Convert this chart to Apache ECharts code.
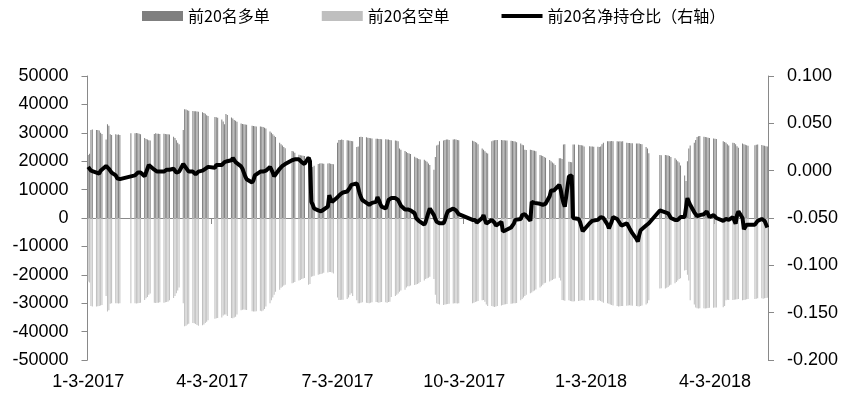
<!DOCTYPE html>
<html><head><meta charset="utf-8">
<script src="https://cdn.jsdelivr.net/npm/echarts@6/dist/echarts.min.js"></script>
<style>html,body{margin:0;padding:0;background:#fff}#c{width:853px;height:406px}</style>
</head><body><div id="c"></div>
<script>
const startDate = '2017-01-03';
const endDate = '2018-05-11';
const holidays = ['2017-01-27','2017-01-30','2017-01-31','2017-02-01','2017-02-02','2017-04-03','2017-04-04','2017-05-01','2017-05-29','2017-05-30','2017-10-02','2017-10-03','2017-10-04','2017-10-05','2017-10-06','2018-01-01','2018-02-15','2018-02-16','2018-02-19','2018-02-20','2018-02-21','2018-04-05','2018-04-06','2018-04-30','2018-05-01'];
const labelDates = ['2017-01-03','2017-04-03','2017-07-03','2017-10-03','2018-01-03','2018-04-03'];
const seriesNames = ['前20名多单','前20名空单','前20名净持仓比（右轴）'];

const longVals = [
22200,22600,31000,31200,31000,31000,30800,30000,29600,27600,33000,32500,29500,29200,29500,29300,29400,29200,
29800,29800,29900,29800,29700,29500,28200,27800,27600,27400,27300,29600,29800,29700,29700,29600,29700,29600,
29500,29500,29400,28600,28200,27400,26500,26000,31000,38300,38200,37900,37800,37700,37600,37600,37500,37400,37200,37000,36700,36200,35900,
35600,35500,35300,34700,34000,33000,36600,36300,35400,35000,34500,34200,33900,33300,33100,33000,32900,32800,
32500,32400,32300,32200,32200,32100,32000,31800,31500,30500,30000,29500,29000,28500,26500,26000,25500,25000,24600,23600,
23400,23000,22300,22100,22000,21900,21800,21700,21400,18200,18000,18400,19000,19200,19300,19200,19100,19200,19300,19100,19000,18900,
26500,27500,27500,27600,27500,27400,27300,27200,27100,27000,25000,25200,28500,28600,28500,28400,28300,28200,28100,28000,27900,
27900,27800,27800,27700,27700,27600,27600,27500,27400,27300,27200,27000,24500,24000,23600,23200,22900,22700,22500,21600,21200,21000,20800,
20600,20500,20200,19800,19200,18700,17000,21500,25500,25800,27000,27300,27500,27600,27600,27500,27600,27700,27600,27500,27400,
27200,27000,26800,26500,26000,24500,24000,23500,23000,22700,27000,27300,27400,27500,27500,27500,27400,
27400,27300,27300,27200,27100,27000,26900,26700,26200,25800,25600,24000,23900,24000,23900,23800,23700,23500,22200,22000,21800,21500,
21200,20400,20000,19500,19200,18700,21000,21000,20800,25900,26000,19800,19700,19600,25900,25900,25800,25700,25600,25500,25200,
25300,25200,25200,25100,25100,25000,25200,26000,26500,27000,27000,27000,27100,27000,27000,26900,27000,26900,27000,26500,26400,26400,
26300,26300,26200,26200,26200,26100,26000,25000,24500,22800,22200,22100,22200,22100,22000,
21800,21500,21000,20500,20000,19500,18500,15000,13000,20000,24500,25500,26500,27500,28500,28800,28900,28600,28500,28400,28300,28200,
28000,27900,27800,27000,26800,26500,26000,25500,26500,26400,26000,25300,24700,26200,26000,25800,25600,25400,
25600,25800,25900,25700,25500,25400,25300,25200
];

const shortVals = [
-22400,-22700,-31000,-31200,-31200,-31100,-31000,-30800,-30600,-27500,-32900,-32500,-30200,-30000,-30000,-30000,-30100,-30000,
-30000,-30000,-30100,-30000,-29900,-29800,-28900,-28300,-27800,-27000,-26600,-29800,-29900,-29800,-29800,-29700,-29800,-29700,
-29600,-29400,-29000,-28200,-27500,-26500,-25500,-24500,-30000,-38100,-37900,-37500,-37200,-37000,-37100,-37300,-37700,-37900,-37800,-37500,-37000,-36500,-36000,
-35500,-35300,-35200,-35000,-34300,-34000,-34000,-34500,-35200,-35300,-35000,-34800,-34000,-32500,-32300,-32200,-32300,-32400,
-32800,-32900,-32900,-32800,-32700,-32800,-32600,-32000,-31200,-30000,-29000,-28000,-27000,-26000,-25300,-24600,-24200,-23800,-23500,-23000,
-22800,-22500,-22000,-21800,-21500,-21300,-21100,-23500,-23200,-20700,-20500,-20300,-20000,-19800,-19700,-19500,-19300,-19200,-19000,-19000,-19200,-19500,
-28000,-28900,-28900,-28800,-28800,-28500,-28000,-27000,-26500,-27500,-29000,-30000,-30000,-29800,-29700,-29800,-29900,-30000,-29800,-29700,-29600,
-29700,-29800,-29700,-29600,-29700,-29800,-29600,-29500,-27800,-27500,-27000,-26600,-26000,-25500,-25300,-24500,-24000,-24000,-23800,-23600,-23400,-23200,-23000,
-22500,-22000,-21500,-21200,-21000,-20700,-21500,-27000,-30000,-30300,-30500,-30600,-30500,-30400,-30300,-30200,-30100,-30000,-30000,-30100,-30000,
-30000,-29800,-29600,-29400,-29200,-29000,-28900,-29500,-30500,-31000,-31000,-31200,-31300,-31200,-31000,-30800,-30600,
-30500,-30400,-30300,-30200,-30100,-30000,-30000,-29900,-29000,-28500,-28000,-27500,-27000,-26500,-26200,-25800,-25500,-25200,-24500,-24000,-23500,-23000,
-22800,-22400,-22000,-21800,-21500,-21300,-21000,-22000,-28900,-29000,-29100,-29000,-29200,-29300,-29400,-29300,-29200,-29100,-29000,-29000,-29100,
-29000,-29000,-28900,-29000,-29100,-29000,-29200,-29500,-29800,-30000,-30200,-30500,-30600,-30800,-31000,-31200,-31100,-31000,-31000,-30900,-30800,-30700,
-30800,-30900,-31000,-31100,-31200,-31000,-30800,-30500,-30000,-29000,-24800,-24700,-24800,-24600,-24300,
-23800,-23500,-23000,-22500,-22000,-21500,-21200,-18500,-18300,-20000,-22000,-29000,-30500,-31500,-31800,-31900,-31800,-31800,-31900,-31800,-31700,-31600,
-31600,-31500,-31500,-31400,-31000,-29000,-28800,-28900,-28900,-28800,-28700,-28600,-28500,-29000,-28900,-28800,-28600,-28500,
-28500,-28400,-28300,-28300,-28400,-28300,-28200,-28100
];

const ratioVals = [
0.004,0.006,0.000,-0.001,-0.002,-0.004,-0.003,0.000,0.002,0.005,0.004,0.002,0.000,-0.002,-0.005,-0.008,-0.009,-0.009,
-0.006,-0.005,-0.004,-0.002,-0.001,-0.002,-0.006,-0.004,0.002,0.006,0.004,0.001,0.000,-0.001,-0.002,-0.001,-0.001,0.000,
0.001,0.0015,0.001,0.002,0.001,-0.002,-0.004,-0.001,0.007,0.006,0.003,0.001,-0.001,-0.001,-0.003,-0.004,-0.002,-0.001,0.000,-0.001,0.002,0.004,0.004,
0.003,0.006,0.0075,0.006,0.007,0.009,0.0095,0.010,0.011,0.0135,0.012,0.009,0.007,0.0045,0.002,-0.002,-0.006,-0.009,
-0.0125,-0.010,-0.005,-0.003,-0.001,0.000,-0.001,-0.002,0.000,0.004,0.001,-0.002,-0.006,-0.005,0.002,0.004,0.005,0.006,0.007,0.011,
0.0115,0.012,0.012,0.011,0.009,0.008,0.007,0.0138,0.010,-0.033,-0.036,-0.040,-0.042,-0.043,-0.043,-0.042,-0.041,-0.038,-0.026,-0.030,-0.033,-0.031,
-0.028,-0.027,-0.025,-0.024,-0.023,-0.022,-0.022,-0.018,-0.015,-0.014,-0.0134,-0.018,-0.024,-0.028,-0.031,-0.034,-0.035,-0.036,-0.035,-0.034,-0.033,
-0.028,-0.031,-0.035,-0.038,-0.040,-0.036,-0.031,-0.029,-0.029,-0.029,-0.030,-0.031,-0.034,-0.037,-0.041,-0.042,-0.041,-0.041,-0.042,-0.045,-0.050,-0.052,-0.053,
-0.054,-0.057,-0.054,-0.049,-0.044,-0.040,-0.047,-0.051,-0.054,-0.0556,-0.0556,-0.0556,-0.052,-0.047,-0.043,-0.042,-0.040,-0.041,-0.042,-0.043,-0.046,
-0.052,-0.052,-0.052,-0.055,-0.057,-0.050,-0.047,-0.052,-0.056,-0.055,-0.052,-0.054,-0.055,-0.058,-0.057,-0.054,-0.064,
-0.065,-0.063,-0.062,-0.060,-0.060,-0.056,-0.052,-0.051,-0.051,-0.047,-0.045,-0.046,-0.047,-0.053,-0.033,-0.033,-0.034,-0.034,-0.035,-0.035,-0.036,-0.036,
-0.035,-0.027,-0.021,-0.020,-0.021,-0.022,-0.015,-0.020,-0.028,-0.034,-0.038,-0.006,-0.004,-0.005,-0.050,-0.050,-0.051,-0.054,-0.059,-0.064,-0.063,
-0.0556,-0.0545,-0.053,-0.053,-0.052,-0.050,-0.049,-0.049,-0.050,-0.057,-0.061,-0.060,-0.054,-0.049,-0.051,-0.053,-0.0556,-0.058,-0.057,-0.0556,-0.057,-0.061,
-0.063,-0.066,-0.072,-0.075,-0.068,-0.063,-0.061,-0.058,-0.057,-0.0556,-0.042,-0.041,-0.044,-0.045,-0.045,
-0.047,-0.050,-0.052,-0.052,-0.052,-0.050,-0.049,-0.049,-0.049,-0.029,-0.033,-0.036,-0.044,-0.046,-0.048,-0.049,-0.047,-0.046,-0.044,-0.043,-0.046,-0.049,
-0.047,-0.048,-0.050,-0.053,-0.052,-0.051,-0.051,-0.052,-0.049,-0.051,-0.056,-0.047,-0.043,-0.050,-0.062,-0.062,-0.057,-0.0556,
-0.057,-0.055,-0.053,-0.051,-0.052,-0.053,-0.054,-0.060
];

// build calendar-day categories; values land on trading days (weekdays minus holidays)
function pad(n){return n<10?'0'+n:''+n;}
function key(d){return d.getUTCFullYear()+'-'+pad(d.getUTCMonth()+1)+'-'+pad(d.getUTCDate());}
const holidaySet = new Set(holidays);
const labelSet = new Set(labelDates);
const cats = [], longData = [], shortData = [], ratioData = [];
let ti = 0;
for (let d = new Date(startDate+'T00:00:00Z'); key(d) <= endDate; d = new Date(d.getTime()+86400000)) {
  const k = key(d); cats.push(k);
  const wd = d.getUTCDay();
  if (wd>=1 && wd<=5 && !holidaySet.has(k) && ti < longVals.length) {
    longData.push(longVals[ti]); shortData.push(shortVals[ti]); ratioData.push(ratioVals[ti]); ti++;
  } else { longData.push(null); shortData.push(null); ratioData.push(null); }
}
function fmtDate(v){const p=v.split('-');return (+p[1])+'-'+(+p[2])+'-'+p[0];}
const showAt = (i, v) => labelSet.has(v);

const AX = '#898989';
const TXT = '#000000';
const FONT = "'Liberation Sans', Arial, sans-serif";
const chart = echarts.init(document.getElementById('c'), null, {renderer:'canvas'});
chart.setOption({
  animation:false,
  backgroundColor:'#ffffff',
  grid:{left:87.5, right:85, top:76, bottom:46, containLabel:false, outerBoundsMode:'none'},
  legend:{
    top:8, left:142, padding:0, itemWidth:41, itemHeight:10, itemGap:52,
    textStyle:{fontSize:16, color:TXT, fontFamily:"'Noto Sans CJK SC', sans-serif"},
    data:[
      {name:seriesNames[0], icon:'rect'},
      {name:seriesNames[1], icon:'rect'},
      {name:seriesNames[2], icon:'path://M0,0 L40,0 L40,4 L0,4 Z'}
    ]
  },
  xAxis:[
    {type:'category', data:cats, boundaryGap:true, position:'bottom',
     axisLine:{show:false, onZero:false}, axisTick:{show:false}, splitLine:{show:false},
     axisLabel:{show:true, interval:showAt, formatter:fmtDate, margin:13, fontSize:18, color:TXT, fontFamily:FONT}},
    {type:'category', data:cats, boundaryGap:true, position:'bottom',
     axisLine:{show:true, onZero:true, onZeroAxisIndex:0, lineStyle:{color:AX, width:1}},
     axisTick:{show:true, interval:showAt, alignWithLabel:false, length:6, lineStyle:{color:AX}},
     axisLabel:{show:false}, splitLine:{show:false}}
  ],
  yAxis:[
    {type:'value', position:'left', min:-50000, max:50000, interval:10000,
     axisLine:{show:true, onZero:false, lineStyle:{color:AX}}, axisTick:{show:true, length:6, lineStyle:{color:AX}},
     splitLine:{show:false}, axisLabel:{margin:19, fontSize:18, color:TXT, fontFamily:FONT, formatter:v=>String(v)}},
    {type:'value', position:'right', min:-0.2, max:0.1, interval:0.05,
     axisLine:{show:true, onZero:false, lineStyle:{color:AX}}, axisTick:{show:true, length:6, lineStyle:{color:AX}},
     splitLine:{show:false}, axisLabel:{margin:19, fontSize:18, color:TXT, fontFamily:FONT, formatter:v=>v.toFixed(3)}}
  ],
  series:[
    {name:seriesNames[0], type:'bar', xAxisIndex:0, yAxisIndex:0, data:longData, barWidth:1, barGap:'-100%',
     itemStyle:{color:'#7f7f7f'}},
    {name:seriesNames[1], type:'bar', xAxisIndex:0, yAxisIndex:0, data:shortData, barWidth:1, barGap:'-100%',
     itemStyle:{color:'#bfbfbf'}},
    {name:seriesNames[2], type:'line', xAxisIndex:0, yAxisIndex:1, data:ratioData, connectNulls:true,
     symbol:'none', lineStyle:{color:'#000000', width:4}, itemStyle:{color:'#000000'}, z:5}
  ]
});
if (ti !== longVals.length || longVals.length!==shortVals.length || longVals.length!==ratioVals.length) {
  chart.setOption({title:{text:'count mismatch '+ti+'/'+longVals.length+'/'+shortVals.length+'/'+ratioVals.length, top:40, left:300}});
}
</script></body></html>
